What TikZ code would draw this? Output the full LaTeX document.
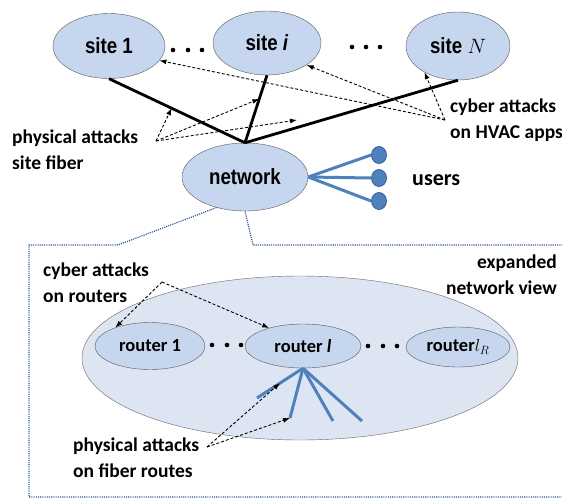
\documentclass[tikz,border=0pt]{standalone}
\usepackage{fontspec}
\setmainfont{Carlito}
\newfontfamily\arialfont[FakeStretch=0.85]{Liberation Sans}
\usetikzlibrary{shapes.geometric, arrows.meta, calc}

\definecolor{sitefill}{RGB}{198,214,238}
\definecolor{cloudfill}{RGB}{221,229,242}
\definecolor{fiberblue}{RGB}{79,129,189}
\definecolor{userdraw}{RGB}{52,96,156}
\definecolor{viewblue}{RGB}{47,85,151}

\begin{document}
\begin{tikzpicture}[
    x=1pt, y=-1pt,
    site/.style={ellipse, draw=black!65, fill=sitefill, inner sep=0pt, font=\arialfont\bfseries\fontsize{22}{24}\selectfont},
    router/.style={ellipse, draw=black!65, fill=sitefill, inner sep=0pt, font=\bfseries\fontsize{18.5}{20}\selectfont},
    user/.style={ellipse, draw=userdraw, fill=fiberblue, thick, minimum width=15pt, minimum height=17pt, inner sep=0pt},
    site edge/.style={draw=black, line width=2.8pt},
    fiber edge/.style={draw=fiberblue, line width=3pt},
    attack/.style={draw=black, densely dashed, line width=0.9pt, -{Latex[length=7pt, width=5pt]}},
    view line/.style={draw=viewblue, line width=1.2pt, dash pattern=on 1.1pt off 1.1pt},
    note/.style={inner sep=0pt, font=\bfseries\fontsize{19.5}{26}\selectfont}
]
\useasboundingbox (0,0) rectangle (562,499);

% --- sites and the network ---
\node[site, minimum width=112pt, minimum height=65pt] (s1) at (109,46) {site 1};
\node[site, minimum width=108pt, minimum height=64pt] (si) at (267,43) {site \textit{i}};
\node[site, minimum width=104pt, minimum height=68pt] (sN) at (458,46) {site $N$};
\node[site, minimum width=126pt, minimum height=68pt] (net) at (245,177) {network};

\foreach \x in {173,188,202} \fill (\x,50) circle (2.3pt);
\foreach \x in {352,366,380} \fill (\x,47) circle (2.3pt);

\draw[site edge] (s1.south)--(net.north);
\draw[site edge] (si.south)--(net.north);
\draw[site edge] (sN.south)--(net.north);

% --- users ---
\foreach \i/\y in {1/155, 2/178, 3/201} {
    \node[user] (u\i) at (379,\y) {};
    \draw[fiber edge] (net.east)--(u\i.west);
}
\node[note, anchor=base west, font=\bfseries\fontsize{22}{26}\selectfont] (users) at (412,185) {users};

% --- attacks on the sites ---
\node[note, anchor=base west, align=left] (physTop) at (12,169) {physical attacks\\site fiber};
\node[note, anchor=base west, align=left] (cyberTop) at (450,138) {cyber attacks\\on HVAC apps};
\coordinate (pa) at (156,141);
\coordinate (ca) at (445,120);

\draw[attack] (pa)--($(s1.south)!0.46!(net.north)$);
\draw[attack] (pa)--($(si.south)!0.35!(net.north)$);
\draw[attack] (pa)--(297,120);
\draw[attack] (ca)--(s1.-16);
\draw[attack] (ca)--(si.-29);
\draw[attack] (ca)--(sN.218);

% --- expanded network view ---
\draw[view line] (net.227)--(118,245)--(29,245)--(29,497)--(562,497);
\draw[view line] (net.south)--(253,245)--(562,245);
\node[note, anchor=base east, align=right] (expand) at (557,294) {expanded\\network view};

\node[ellipse, draw=black!60, fill=cloudfill, minimum width=436pt, minimum height=164pt] (cloud) at (300,358) {};

\node[router, minimum width=110pt, minimum height=47pt] (r1) at (150,346) {router 1};
\node[router, minimum width=116pt, minimum height=44pt] (rl) at (303,346) {router \textit{l}};
\node[router, minimum width=104pt, minimum height=40pt] (rR) at (458,347) {router$l_R$};

\foreach \x in {212,227,241} \fill (\x,345) circle (2.3pt);
\foreach \x in {368,383,397} \fill (\x,346) circle (2.3pt);

% --- fiber routes of router l ---
\coordinate (f1) at (257,398);
\coordinate (f2) at (290,418);
\coordinate (f3) at (333,421);
\coordinate (f4) at (362,421);
\foreach \f in {f1,f2,f3,f4}
    \draw[fiber edge] (rl.south)--(\f);

% --- attacks on the routers ---
\node[note, anchor=base west, align=left] (cyberLow) at (43,302) {cyber attacks\\on routers};
\coordinate (cr) at (162,282);
\draw[attack] (cr)--(r1.152);
\draw[attack] (cr)--(rl.152);

\node[note, anchor=base west, align=left] (physLow) at (73,477) {physical attacks\\on fiber routes};
\coordinate (pf) at (207,447);
\draw[attack] (pf)--($(rl.south)!0.5!(f1)$);
\draw[attack] (pf)--(f2);

\end{tikzpicture}
\end{document}
